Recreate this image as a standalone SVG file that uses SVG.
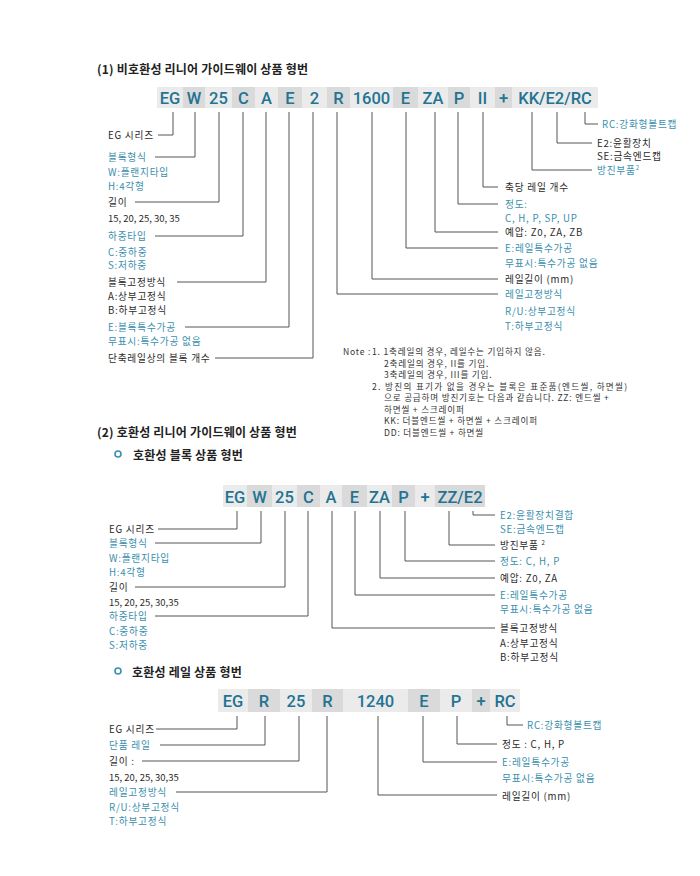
<svg xmlns="http://www.w3.org/2000/svg" width="700" height="876" viewBox="0 0 700 876">
<style>
.bg{fill:#ffffff}
.bl{fill:#ebebeb}
.bd{fill:#dadada}
.code{font-family:Roboto,"Liberation Sans",sans-serif;font-weight:500;font-size:16.5px;fill:#237393;text-anchor:middle}
.t{font-family:"Noto Sans CJK KR",sans-serif;font-size:9.7px;letter-spacing:0.75px;dominant-baseline:central}
.k{fill:#2b2b2b}
.c{fill:#3a8fae}
.n{letter-spacing:0;font-size:9.5px}
.title{font-family:"Noto Sans CJK KR",sans-serif;font-size:12px;letter-spacing:0.2px;font-weight:bold;fill:#222;dominant-baseline:central}
.note{font-family:"Noto Sans CJK KR",sans-serif;font-size:8.6px;fill:#333;letter-spacing:0.8px;dominant-baseline:central}
.ln{fill:none;stroke:#555;stroke-width:1}
.bul{fill:none;stroke:#3a8fae;stroke-width:1.6}
</style>
<rect class="bg" x="0" y="0" width="700" height="876"/>

<g id="title1"><text class="title" x="97" y="68">(1) 비호환성 리니어 가이드웨이 상품 형번</text></g>

<g id="code1">
<rect class="bl" x="157" y="87" width="26" height="21"/>
<rect class="bd" x="183" y="87" width="22" height="21"/>
<rect class="bl" x="205" y="87" width="27" height="21"/>
<rect class="bd" x="232" y="87" width="23" height="21"/>
<rect class="bl" x="255" y="87" width="23" height="21"/>
<rect class="bd" x="278" y="87" width="24" height="21"/>
<rect class="bl" x="302" y="87" width="25" height="21"/>
<rect class="bd" x="327" y="87" width="23" height="21"/>
<rect class="bl" x="350" y="87" width="43" height="21"/>
<rect class="bd" x="393" y="87" width="25" height="21"/>
<rect class="bl" x="418" y="87" width="30" height="21"/>
<rect class="bd" x="448" y="87" width="22" height="21"/>
<rect class="bl" x="470" y="87" width="25" height="21"/>
<rect class="bd" x="495" y="87" width="17" height="21"/>
<rect class="bl" x="512" y="87" width="86" height="21"/>
<text class="code" x="170" y="103.5">EG</text>
<text class="code" x="194" y="103.5">W</text>
<text class="code" x="218.5" y="103.5">25</text>
<text class="code" x="243.5" y="103.5">C</text>
<text class="code" x="266.5" y="103.5">A</text>
<text class="code" x="290" y="103.5">E</text>
<text class="code" x="314.5" y="103.5">2</text>
<text class="code" x="338.5" y="103.5">R</text>
<text class="code" x="371.5" y="103.5">1600</text>
<text class="code" x="405.5" y="103.5">E</text>
<text class="code" x="433" y="103.5">ZA</text>
<text class="code" x="459" y="103.5">P</text>
<text class="code" x="482.5" y="103.5">II</text>
<text class="code" x="503.5" y="103.5">+</text>
<text class="code" x="555" y="103.5">KK/E2/RC</text>
</g>

<g id="connectors">
<path class="ln" d="M173,112V135H158"/>
<path class="ln" d="M195,112V157H155"/>
<path class="ln" d="M219,112V202H135"/>
<path class="ln" d="M243,112V236H155"/>
<path class="ln" d="M266,112V282H177"/>
<path class="ln" d="M289,112V327H185"/>
<path class="ln" d="M313,112V358H215"/>
<path class="ln" d="M585,112V124H598"/>
<path class="ln" d="M557,112V143H592"/>
<path class="ln" d="M532,112V170H592"/>
<path class="ln" d="M483,112V187H498"/>
<path class="ln" d="M458,112V204H498"/>
<path class="ln" d="M435,112V232H498"/>
<path class="ln" d="M406,112V248H498"/>
<path class="ln" d="M372,112V279H498"/>
<path class="ln" d="M337,112V294H498"/>

<path class="ln" d="M237,511V529H158"/>
<path class="ln" d="M261,511V543H155"/>
<path class="ln" d="M285,511V587H135"/>
<path class="ln" d="M308,511V616H155"/>
<path class="ln" d="M332,511V628H495"/>
<path class="ln" d="M355,511V595H495"/>
<path class="ln" d="M380,511V578H495"/>
<path class="ln" d="M405,511V561H495"/>
<path class="ln" d="M449,511V545H495"/>
<path class="ln" d="M473,511V515H495"/>

<path class="ln" d="M237,716V729H156"/>
<path class="ln" d="M265,716V745H160"/>
<path class="ln" d="M299,716V761H142"/>
<path class="ln" d="M327,716V792H176"/>
<path class="ln" d="M378,716V795H497"/>
<path class="ln" d="M423,716V762H497"/>
<path class="ln" d="M457,716V744H497"/>
<path class="ln" d="M507,716V725H523"/>
</g>

<g id="s1-left">
<g id="s1-eg"><text class="t k" x="108" y="135">EG 시리즈</text></g>
<g id="s1-block"><text class="t c" x="108" y="157">블록형식</text><text class="t c" x="108" y="172">W:플랜지타입</text><text class="t c" x="108" y="186">H:4각형</text></g>
<g id="s1-len"><text class="t k" x="108" y="202">길이</text><text class="t k n" x="108" y="218">15, 20, 25, 30, 35</text></g>
<g id="s1-load"><text class="t c" x="108" y="236">하중타입</text><text class="t c" x="108" y="252">C:중하중</text><text class="t c" x="108" y="265">S:저하중</text></g>
<g id="s1-fix"><text class="t k" x="108" y="282">블록고정방식</text><text class="t k" x="108" y="296">A:상부고정식</text><text class="t k" x="108" y="310">B:하부고정식</text></g>
<g id="s1-special"><text class="t c" x="108" y="327">E:블록특수가공</text><text class="t c" x="108" y="341">무표시:특수가공 없음</text></g>
<g id="s1-count"><text class="t k" x="108" y="358">단축레일상의 블록 개수</text></g>
</g>

<g id="s1-right">
<g id="s1-rc"><text class="t c" x="602" y="124">RC:강화형볼트캡</text></g>
<g id="s1-e2"><text class="t k" x="597" y="143">E2:윤활장치</text><text class="t k" x="597" y="156">SE:금속엔드캡</text></g>
<g id="s1-dust"><text class="t c" x="597" y="170">방진부품<tspan font-size="6" dy="-3">2</tspan></text></g>
<g id="s1-rails"><text class="t k" x="505" y="187">축당 레일 개수</text></g>
<g id="s1-acc"><text class="t c" x="505" y="204">정도:</text><text class="t c" x="505" y="218">C, H, P, SP, UP</text></g>
<g id="s1-pre"><text class="t k" x="505" y="232">예압: Z0, ZA, ZB</text></g>
<g id="s1-rsp"><text class="t c" x="505" y="248">E:레일특수가공</text><text class="t c" x="505" y="263">무표시:특수가공 없음</text></g>
<g id="s1-rlen"><text class="t k" x="505" y="279">레일길이 (mm)</text></g>
<g id="s1-rfix"><text class="t c" x="505" y="294">레일고정방식</text><text class="t c" x="505" y="311">R/U:상부고정식</text><text class="t c" x="505" y="326">T:하부고정식</text></g>
</g>

<g id="note">
<text class="note" x="343" y="351">Note :</text>
<text class="note" x="372" y="351">1. 1축레일의 경우, 레일수는 기입하지 않음.</text>
<text class="note" x="384" y="362.5">2축레일의 경우, II를 기입.</text>
<text class="note" x="384" y="374">3축레일의 경우, III를 기입.</text>
<text class="note" x="372" y="385.5" textLength="256" lengthAdjust="spacing">2. 방진의 표기가 없을 경우는 블록은 표준품(엔드씰, 하면씰)</text>
<text class="note" x="384" y="397">으로 공급하며 방진기호는 다음과 같습니다. ZZ: 엔드씰 +</text>
<text class="note" x="384" y="408.5">하면씰 + 스크레이퍼</text>
<text class="note" x="384" y="420">KK: 더블엔드씰 + 하면씰 + 스크레이퍼</text>
<text class="note" x="384" y="431.5">DD: 더블엔드씰 + 하면씰</text>
</g>

<g id="title2"><text class="title" x="97" y="431">(2) 호환성 리니어 가이드웨이 상품 형번</text></g>
<g id="sub2"><circle class="bul" cx="118" cy="454" r="3"/><text class="title" x="133" y="454">호환성 블록 상품 형번</text></g>

<g id="code2">
<rect class="bl" x="223" y="485" width="24" height="22"/>
<rect class="bd" x="247" y="485" width="25" height="22"/>
<rect class="bl" x="272" y="485" width="25" height="22"/>
<rect class="bd" x="297" y="485" width="23" height="22"/>
<rect class="bl" x="320" y="485" width="22" height="22"/>
<rect class="bd" x="342" y="485" width="25" height="22"/>
<rect class="bl" x="367" y="485" width="25" height="22"/>
<rect class="bd" x="392" y="485" width="23" height="22"/>
<rect class="bl" x="415" y="485" width="20" height="22"/>
<rect class="bd" x="435" y="485" width="50" height="22"/>
<text class="code" x="235" y="502.5">EG</text>
<text class="code" x="259.5" y="502.5">W</text>
<text class="code" x="284.5" y="502.5">25</text>
<text class="code" x="308.5" y="502.5">C</text>
<text class="code" x="331" y="502.5">A</text>
<text class="code" x="354.5" y="502.5">E</text>
<text class="code" x="379.5" y="502.5">ZA</text>
<text class="code" x="403.5" y="502.5">P</text>
<text class="code" x="425" y="502.5">+</text>
<text class="code" x="460" y="502.5">ZZ/E2</text>
</g>

<g id="s2-left">
<g id="s2-eg"><text class="t k" x="109" y="529">EG 시리즈</text></g>
<g id="s2-block"><text class="t c" x="109" y="543">블록형식</text><text class="t c" x="109" y="558">W:플랜지타입</text><text class="t c" x="109" y="572">H:4각형</text></g>
<g id="s2-len"><text class="t k" x="109" y="587">길이</text><text class="t k n" x="109" y="602">15, 20, 25, 30,35</text></g>
<g id="s2-load"><text class="t c" x="109" y="616">하중타입</text><text class="t c" x="109" y="631">C:중하중</text><text class="t c" x="109" y="645">S:저하중</text></g>
</g>

<g id="s2-right">
<g id="s2-e2"><text class="t c" x="500" y="515">E2:윤활장치결합</text><text class="t c" x="500" y="529">SE:금속엔드캡</text></g>
<g id="s2-dust"><text class="t k" x="500" y="545">방진부품 <tspan font-size="6" dy="-3">2</tspan></text></g>
<g id="s2-acc"><text class="t c" x="500" y="561">정도: C, H, P</text></g>
<g id="s2-pre"><text class="t k" x="500" y="578">예압: Z0, ZA</text></g>
<g id="s2-rsp"><text class="t c" x="500" y="595">E:레일특수가공</text><text class="t c" x="500" y="609">무표시:특수가공 없음</text></g>
<g id="s2-fix"><text class="t k" x="500" y="628">블록고정방식</text><text class="t k" x="500" y="643">A:상부고정식</text><text class="t k" x="500" y="657">B:하부고정식</text></g>
</g>

<g id="sub3"><circle class="bul" cx="118" cy="671" r="3"/><text class="title" x="132" y="671">호환성 레일 상품 형번</text></g>

<g id="code3">
<rect class="bl" x="218" y="689" width="30" height="23"/>
<rect class="bd" x="248" y="689" width="32" height="23"/>
<rect class="bl" x="280" y="689" width="32" height="23"/>
<rect class="bd" x="312" y="689" width="31" height="23"/>
<rect class="bl" x="343" y="689" width="65" height="23"/>
<rect class="bd" x="408" y="689" width="32" height="23"/>
<rect class="bl" x="440" y="689" width="32" height="23"/>
<rect class="bd" x="472" y="689" width="18" height="23"/>
<rect class="bl" x="490" y="689" width="30" height="23"/>
<text class="code" x="233" y="706.5">EG</text>
<text class="code" x="264" y="706.5">R</text>
<text class="code" x="296" y="706.5">25</text>
<text class="code" x="327.5" y="706.5">R</text>
<text class="code" x="375.5" y="706.5">1240</text>
<text class="code" x="424" y="706.5">E</text>
<text class="code" x="456" y="706.5">P</text>
<text class="code" x="481" y="706.5">+</text>
<text class="code" x="505" y="706.5">RC</text>
</g>

<g id="s3-left">
<g id="s3-eg"><text class="t k" x="109" y="729">EG 시리즈</text></g>
<g id="s3-rail"><text class="t c" x="109" y="745">단품 레일</text></g>
<g id="s3-len"><text class="t k" x="109" y="761">길이 :</text><text class="t k n" x="109" y="777">15, 20, 25, 30,35</text></g>
<g id="s3-fix"><text class="t c" x="109" y="792">레일고정방식</text><text class="t c" x="109" y="807">R/U:상부고정식</text><text class="t c" x="109" y="821">T:하부고정식</text></g>
</g>

<g id="s3-right">
<g id="s3-rc"><text class="t c" x="527" y="725">RC:강화형볼트캡</text></g>
<g id="s3-acc"><text class="t k" x="502" y="744">정도 : C, H, P</text></g>
<g id="s3-rsp"><text class="t c" x="502" y="762">E:레일특수가공</text><text class="t c" x="502" y="778">무표시:특수가공 없음</text></g>
<g id="s3-rlen"><text class="t k" x="502" y="796">레일길이 (mm)</text></g>
</g>
</svg>
